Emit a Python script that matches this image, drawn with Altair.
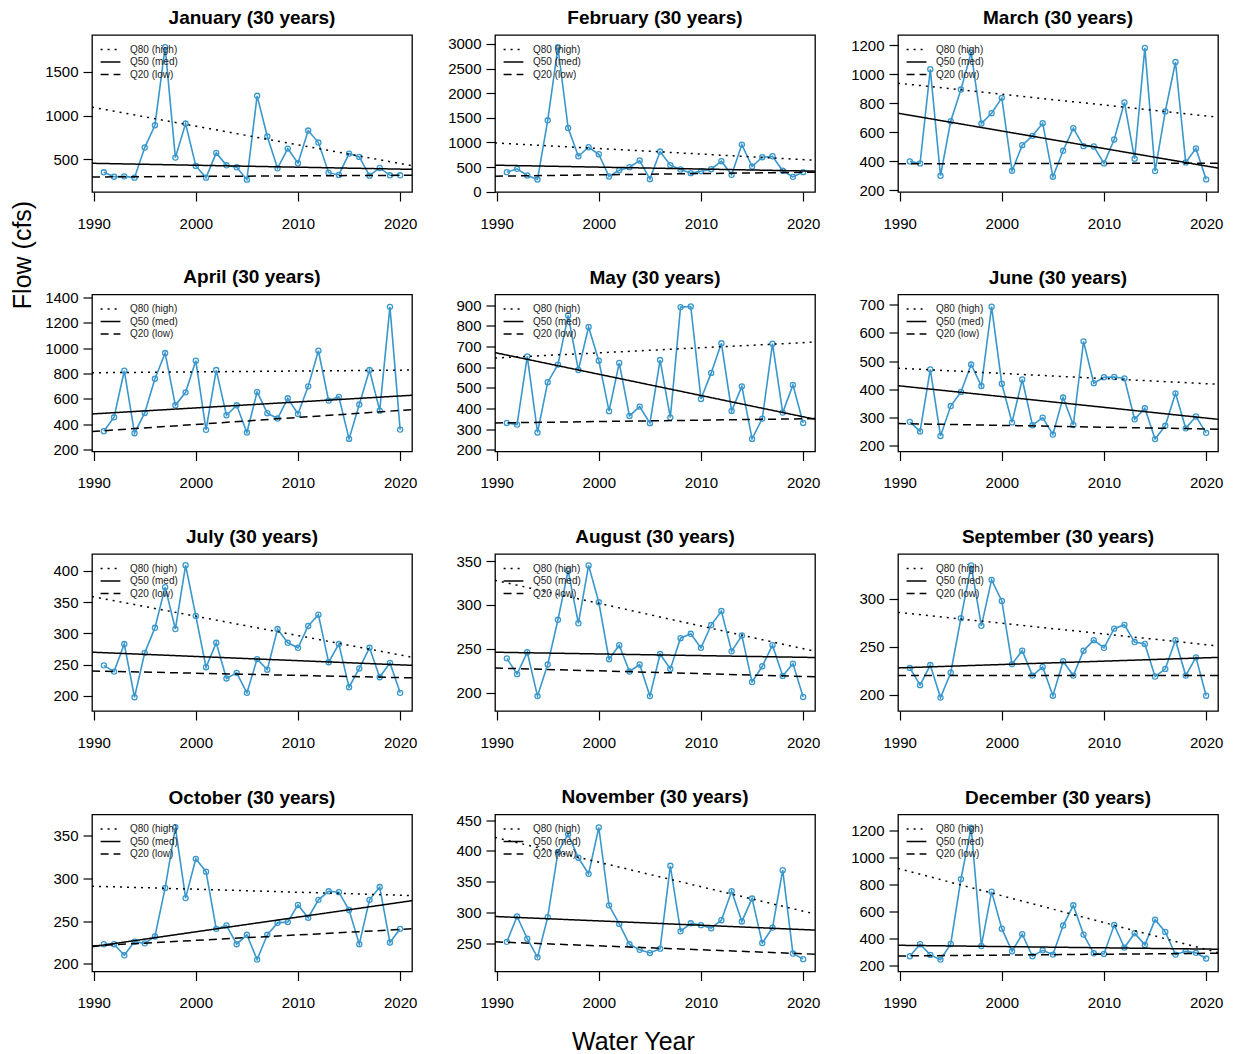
import altair as alt
import pandas as pd

YEARS = list(range(1991, 2021))
MONTHS = ["January", "February", "March", "April", "May", "June",
          "July", "August", "September", "October", "November", "December"]

jan = [351, 301, 305, 290, 634, 889, 1782, 519, 908, 424, 290, 573, 431, 408, 267,
       1225, 760, 397, 622, 454, 828, 691, 347, 321, 565, 527, 313, 401, 317, 317]
feb = [398, 465, 330, 249, 1450, 2933, 1294, 721, 903, 762, 310, 438, 499, 634, 256,
       816, 539, 452, 378, 418, 458, 620, 344, 957, 512, 701, 721, 425, 303, 398]
mar = [400, 386, 1035, 301, 677, 895, 1150, 661, 732, 838, 335, 512, 576, 663, 294,
       473, 629, 505, 503, 386, 551, 806, 418, 1182, 333, 744, 1085, 393, 489, 276]
apr = [346, 456, 822, 331, 490, 759, 961, 550, 652, 901, 357, 827, 472, 550, 336,
       655, 488, 446, 605, 482, 699, 979, 587, 616, 286, 556, 827, 508, 1324, 359]
may = [330, 322, 652, 284, 527, 612, 850, 586, 794, 631, 387, 620, 364, 409, 329,
       634, 356, 890, 893, 446, 572, 715, 388, 507, 253, 351, 713, 380, 514, 330]
jun = [285, 251, 471, 235, 341, 391, 488, 412, 693, 420, 283, 435, 273, 300, 240,
       371, 274, 570, 422, 443, 444, 439, 294, 333, 224, 271, 386, 262, 304, 246]
jul = [249, 239, 283, 198, 269, 309, 374, 307, 409, 328, 246, 285, 228, 237, 205,
       259, 242, 307, 285, 277, 312, 330, 254, 283, 214, 244, 277, 230, 253, 205]
aug = [239, 221, 246, 196, 232, 283, 339, 279, 345, 303, 238, 254, 224, 232, 196,
       244, 227, 262, 267, 251, 277, 293, 247, 265, 212, 230, 254, 219, 233, 195]
sep = [228, 210, 231, 197, 223, 280, 335, 272, 320, 298, 232, 246, 220, 229, 199,
       235, 220, 246, 257, 249, 269, 273, 255, 253, 219, 227, 257, 220, 239, 199]
octo = [223, 223, 210, 226, 224, 232, 289, 360, 277, 323, 308, 241, 245, 223, 234,
        205, 234, 248, 249, 269, 254, 275, 285, 284, 263, 223, 275, 290, 225, 241]
nov = [253, 294, 258, 228, 293, 398, 427, 389, 363, 438, 312, 282, 249, 240, 235,
       242, 376, 270, 283, 280, 275, 288, 335, 286, 323, 251, 276, 369, 234, 225]
dec = [269, 358, 279, 244, 360, 840, 1220, 345, 747, 473, 306, 432, 269, 313, 281,
       496, 646, 429, 291, 286, 500, 333, 439, 353, 540, 449, 281, 306, 294, 252]
FLOWS = [jan, feb, mar, apr, may, jun, jul, aug, sep, octo, nov, dec]

# trend lines: value at left edge and right edge of each panel
TREND_X = [1989.84, 2021.16]
q80_start = [1095, 991, 939, 806, 644, 475, 359, 328, 286, 291, 422, 919]
q80_end = [427, 640, 705, 827, 721, 418, 262, 247, 251, 280, 298, 296]
q50_start = [454, 539, 732, 482, 670, 413, 270, 246, 228, 220, 294, 350]
q50_end = [385, 418, 354, 629, 348, 294, 249, 240, 239, 274, 272, 321]
q20_start = [298, 317, 383, 344, 330, 279, 240, 228, 220, 221, 253, 271]
q20_end = [317, 398, 388, 516, 351, 259, 229, 218, 220, 241, 233, 291]

Y_DOMAINS = [[126, 1920], [-5, 3182], [189, 1271], [187, 1421], [192, 951], [180, 736],
             [176, 427], [179, 358], [183, 347], [191, 375], [205, 459], [156, 1318]]
Y_TICKS = [
    [500, 1000, 1500],
    [0, 500, 1000, 1500, 2000, 2500, 3000],
    [200, 400, 600, 800, 1000, 1200],
    [200, 400, 600, 800, 1000, 1200, 1400],
    [200, 300, 400, 500, 600, 700, 800, 900],
    [200, 300, 400, 500, 600, 700],
    [200, 250, 300, 350, 400],
    [200, 250, 300, 350],
    [200, 250, 300],
    [200, 250, 300, 350],
    [250, 300, 350, 400, 450],
    [200, 400, 600, 800, 1000, 1200],
]
X_TICKS = [1990, 2000, 2010, 2020]
SERIES = ["Q80 (high)", "Q50 (med)", "Q20 (low)"]
# title gap, reduced where the top tick label reaches above the frame
TITLE_OFFSETS = [7, 7, 7, 3, 7, 7, 7, 7, 7, 7, 6, 7]

BLUE = "#3a97cb"
FONT = "Liberation Sans"
PW, PH = 320, 157


def panel(i):
    df = pd.DataFrame({"year": YEARS, "flow": FLOWS[i]})
    tr = pd.DataFrame({
        "year": TREND_X * 3,
        "flow": [q80_start[i], q80_end[i], q50_start[i], q50_end[i], q20_start[i], q20_end[i]],
        "series": [SERIES[0]] * 2 + [SERIES[1]] * 2 + [SERIES[2]] * 2,
    })
    x = alt.X("year:Q",
              scale=alt.Scale(domain=TREND_X, nice=False, zero=False),
              axis=alt.Axis(values=X_TICKS, format="d", title=None, labelPadding=15,
                            labelFlush=False, labelOverlap=False, tickCount=4))
    y = alt.Y("flow:Q",
              scale=alt.Scale(domain=Y_DOMAINS[i], nice=False, zero=False),
              axis=alt.Axis(values=Y_TICKS[i], format="d", title=None, labelPadding=5,
                            labelFlush=False, labelOverlap=False,
                            tickCount=len(Y_TICKS[i]),
                            minExtent=48, maxExtent=48))
    line = alt.Chart(df).mark_line(color=BLUE, strokeWidth=1.6).encode(x=x, y=y)
    pts = alt.Chart(df).mark_point(shape="circle", filled=False, color=BLUE,
                                   size=26, strokeWidth=1.3, opacity=1).encode(x=x, y=y)
    trend = alt.Chart(tr).mark_line(color="black", strokeWidth=1.5, clip=True).encode(
        x=x,
        y=y,
        strokeDash=alt.StrokeDash(
            "series:N",
            scale=alt.Scale(domain=SERIES, range=[[2, 5], [1, 0], [8, 5]]),
            legend=alt.Legend(title=None, orient="none", legendX=12, legendY=8,
                              symbolType="M-1.8,0L1.8,0", symbolSize=121,
                              symbolStrokeWidth=1.3, symbolStrokeColor="black",
                              labelFont=FONT, labelFontSize=10, labelColor="#222222",
                              labelOffset=13, rowPadding=0.5, padding=0),
        ),
    )
    return alt.layer(line, pts, trend).properties(
        width=PW, height=PH,
        title=alt.Title(f"{MONTHS[i]} (30 years)", fontSize=19, fontWeight="bold",
                        font=FONT, color="black", offset=TITLE_OFFSETS[i],
                        anchor="middle", frame="group"),
    )


grid = alt.concat(*[panel(i) for i in range(12)], columns=3,
                  spacing=alt.RowColnumber(row=35.5, column=28)).resolve_scale(
    strokeDash="independent"
).properties(
    title=alt.Title("Water Year", orient="bottom", fontSize=25, fontWeight="normal",
                    font=FONT, color="black", offset=19, anchor="middle")
)

ylab = alt.Chart(pd.DataFrame({"t": ["Flow (cfs)"]})).mark_text(
    angle=270, fontSize=25, font=FONT, color="black"
).encode(
    text="t:N", x=alt.value(7), y=alt.value(220)
).properties(width=20, height=400, view=alt.ViewBackground(stroke="transparent"))

chart = alt.hconcat(ylab, grid, spacing=6).properties(
    padding={"left": 2, "top": 0, "right": 0, "bottom": 0}
).configure_view(stroke="black", strokeWidth=1.3).configure_axis(
    labelFont=FONT, labelFontSize=15, labelColor="black", tickColor="black",
    tickSize=9, tickWidth=1.2, domain=False, grid=False
)

chart.save("out.html", embed_options={"renderer": "svg", "actions": False})
